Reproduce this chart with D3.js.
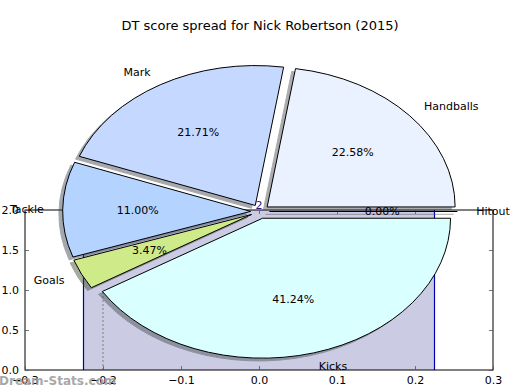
<!DOCTYPE html>
<html>
<head>
<meta charset="utf-8">
<script src="https://cdn.jsdelivr.net/npm/d3@7"></script>
<style>
body{margin:0;background:#fff;}
text{font-family:"DejaVu Sans",sans-serif;}
</style>
</head>
<body>
<div id="chart"></div>
<script>
//Set dimensions of svg
var w=520;
var h=390;

//Pie data
var labels=["Handballs","Mark","Tackle","Goals","Kicks","Hitout"];
var values=[22.58,21.71,11.00,3.47,41.24,0.00];
var colors=["#eaf1ff","#c5d8ff","#b4d4ff","#cfea88","#d9ffff","#ffe0e0"];
var explode=[0.05,0.05,0.05,0.05,0.05,0.05];

//Bar data (axes behind the pie)
var barX=[0];
var barHeights=[2];
var barWidth=0.45;
var dottedX=[-0.2];
var dottedTop=[1.0];
var xTicks=[-0.3,-0.2,-0.1,0.0,0.1,0.2,0.3];
var yTicks=[0.0,0.5,1.0,1.5,2.0];

var svg=d3.select("#chart")
          .append("svg")
          .attr("width",w)
          .attr("height",h);

//Bar axes scales
var x=d3.scaleLinear().domain([-0.3,0.3]).range([25,493]);
var y=d3.scaleLinear().domain([0,2]).range([370,210]);

//Bars
svg.selectAll("rect.bar")
   .data(barX)
   .enter()
   .append("rect")
   .attr("class","bar")
   .attr("x",function(d) {return x(d-barWidth/2);})
   .attr("y",function(d,i) {return y(barHeights[i]);})
   .attr("width",function(d) {return x(d+barWidth/2)-x(d-barWidth/2);})
   .attr("height",function(d,i) {return y(0)-y(barHeights[i]);})
   .style("fill","#cbcbe4");
//Blue bar sides
barX.forEach(function(d,i) {
    [d-barWidth/2,d+barWidth/2].forEach(function(e) {
        svg.append("line")
           .attr("x1",x(e)).attr("x2",x(e))
           .attr("y1",y(0)).attr("y2",y(barHeights[i]))
           .style("stroke","#0000aa")
           .style("stroke-width",1.2);
    });
});
//Dotted line
svg.selectAll("line.dot")
   .data(dottedX)
   .enter()
   .append("line")
   .attr("x1",function(d) {return x(d);})
   .attr("x2",function(d) {return x(d);})
   .attr("y1",y(0))
   .attr("y2",function(d,i) {return y(dottedTop[i]);})
   .style("stroke","#999")
   .style("stroke-width",1.5)
   .style("stroke-dasharray","2,2");

//Axes frame
svg.append("rect")
   .attr("x",x(-0.3)).attr("y",y(2))
   .attr("width",x(0.3)-x(-0.3)).attr("height",y(0)-y(2))
   .style("fill","none")
   .style("stroke","black")
   .style("stroke-width",1);

//Ticks (inside, all four sides)
var xAxisB=d3.axisBottom(x).tickValues(xTicks).tickSize(-4).tickPadding(6).tickFormat(d3.format(".1f"));
var xAxisT=d3.axisTop(x).tickValues(xTicks).tickSize(-4).tickFormat("");
var yAxisL=d3.axisLeft(y).tickValues(yTicks).tickSize(-4).tickPadding(6).tickFormat(d3.format(".1f"));
var yAxisR=d3.axisRight(y).tickValues(yTicks).tickSize(-4).tickFormat("");
[[xAxisB,"translate(0,370)"],[xAxisT,"translate(0,210)"],[yAxisL,"translate(25,0)"],[yAxisR,"translate(493,0)"]].forEach(function(a) {
    var g=svg.append("g").attr("transform",a[1]).call(a[0]);
    g.select(".domain").remove();
    g.selectAll("line").style("stroke","#555").style("stroke-width",0.8);
    g.selectAll("text").style("font-family","DejaVu Sans").style("font-size","11px").style("fill","black");
});

//Bar label
svg.selectAll("text.barlabel")
   .data(barX)
   .enter()
   .append("text")
   .attr("x",function(d) {return x(d);})
   .attr("y",function(d,i) {return y(barHeights[i])-1;})
   .attr("text-anchor","middle")
   .text(function(d,i) {return barHeights[i];})
   .style("font-size","11px")
   .style("fill","#1a1a8a");

//Pie geometry
var cx=260, cy=211.5, rx=188, ry=140;
var px=d3.scaleLinear().domain([-1,1]).range([cx-rx,cx+rx]);
var py=d3.scaleLinear().domain([-1,1]).range([cy+ry,cy-ry]);

//d3 angles run clockwise from north; matplotlib runs counter-clockwise from east
var arcs=d3.pie().sort(null).startAngle(Math.PI/2).endAngle(Math.PI/2-2*Math.PI)(values);
var arc=d3.arc().innerRadius(0).outerRadius(1);

arcs.forEach(function(a,i) {
    var theta=Math.PI/2-(a.startAngle+a.endAngle)/2;
    a.theta=theta;
    a.ox=px(explode[i]*Math.cos(theta))-cx;
    a.oy=py(explode[i]*Math.sin(theta))-cy;
});

function wedgePath(a) {
    if (a.value==0) {
        var t=Math.PI/2-a.startAngle;
        return "M0,0L"+Math.cos(t)+","+(-Math.sin(t));
    }
    return arc(a);
}

//Shadows
svg.append("g")
   .selectAll("path")
   .data(arcs)
   .enter()
   .append("path")
   .attr("d",wedgePath)
   .attr("transform",function(d) {return "translate("+(cx+d.ox-0.02*rx)+","+(cy+d.oy+0.02*ry)+") scale("+rx+","+ry+")";})
   .attr("vector-effect","non-scaling-stroke")
   .style("fill",function(d,i) {var c=d3.rgb(colors[i]); return d3.rgb(c.r*0.3,c.g*0.3,c.b*0.3);})
   .style("stroke",function(d,i) {var c=d3.rgb(colors[i]); return d3.rgb(c.r*0.3,c.g*0.3,c.b*0.3);})
   .style("stroke-width",1)
   .style("opacity",0.45);

//Wedges
svg.append("g")
   .selectAll("path")
   .data(arcs)
   .enter()
   .append("path")
   .attr("d",wedgePath)
   .attr("transform",function(d) {return "translate("+(cx+d.ox)+","+(cy+d.oy)+") scale("+rx+","+ry+")";})
   .attr("vector-effect","non-scaling-stroke")
   .style("fill",function(d,i) {return colors[i];})
   .style("stroke","black")
   .style("stroke-width",1);

//Percent labels
svg.append("g")
   .selectAll("text")
   .data(arcs)
   .enter()
   .append("text")
   .attr("x",function(d) {return px(0.6*Math.cos(d.theta))+d.ox;})
   .attr("y",function(d) {return py(0.6*Math.sin(d.theta))+d.oy;})
   .attr("text-anchor","middle")
   .attr("dominant-baseline","central")
   .text(function(d) {return d.value.toFixed(2)+"%";})
   .style("font-size","11px");

//Slice labels
svg.append("g")
   .selectAll("text")
   .data(arcs)
   .enter()
   .append("text")
   .attr("x",function(d) {return px(1.1*Math.cos(d.theta))+d.ox;})
   .attr("y",function(d) {return py(1.1*Math.sin(d.theta))+d.oy;})
   .attr("text-anchor",function(d) {return Math.cos(d.theta)>=-1e-9?"start":"end";})
   .attr("dominant-baseline","central")
   .text(function(d,i) {return labels[i];})
   .style("font-size","11px");

//Title
svg.append("text")
   .text("DT score spread for Nick Robertson (2015)")
   .attr("x",260)
   .attr("y",30)
   .attr("text-anchor","middle")
   .style("font-size","13px");

//Watermark
svg.append("text")
   .text("Dream-Stats.com")
   .attr("x",-1)
   .attr("y",385)
   .style("font-size","12px")
   .style("font-weight","bold")
   .style("fill","#9a9a9a")
   .style("opacity",0.85);
</script>
</body>
</html>
